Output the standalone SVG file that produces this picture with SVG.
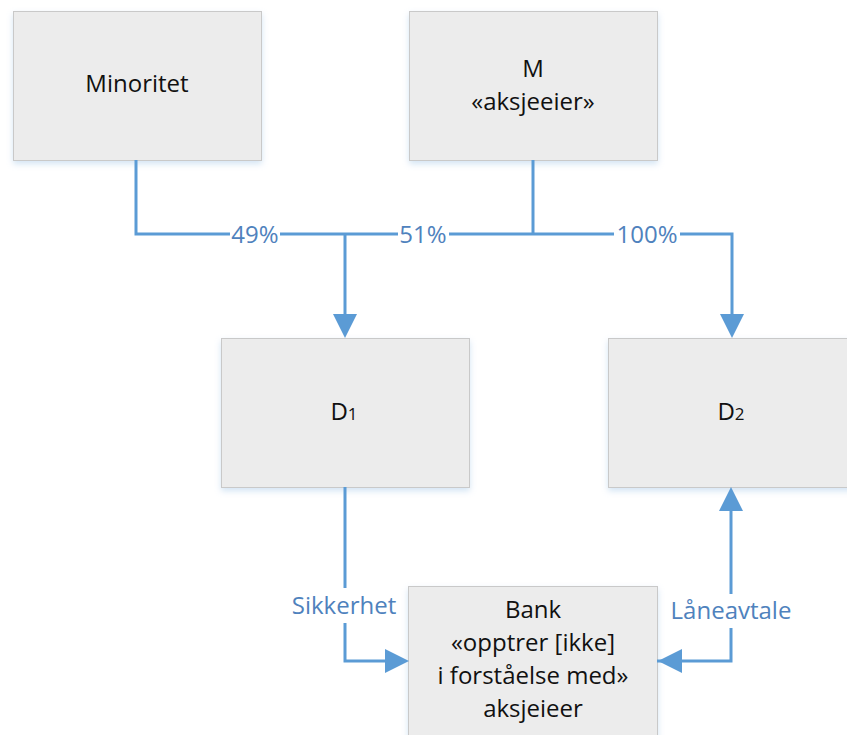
<svg xmlns="http://www.w3.org/2000/svg" width="847" height="735" viewBox="0 0 847 735">
  <style>
    .box { fill: #ececec; stroke: #c9c9c9; stroke-width: 1; filter: url(#shadow); }
    .node-text { font-family: "Open Sans", "Liberation Sans", sans-serif; font-size: 24px; fill: #111; text-anchor: middle; }
    .label { font-family: "Open Sans", "Liberation Sans", sans-serif; font-size: 24px; fill: #4f82bd; text-anchor: middle; }
    .wire { fill: none; stroke: #5b9bd5; stroke-width: 3; }
    .head { fill: #5b9bd5; }
  </style>
  <defs>
    <filter id="shadow" x="-10%" y="-10%" width="120%" height="130%">
      <feDropShadow dx="0" dy="3" stdDeviation="3" flood-color="#9dc3e6" flood-opacity="0.45"/>
    </filter>
  </defs>

  <rect width="847" height="735" fill="#ffffff"/>

  <g id="minoritet">
    <rect class="box" x="13.5" y="11.5" width="248" height="149"/>
    <text class="node-text" x="137" y="92">Minoritet</text>
  </g>

  <g id="m-aksjeeier">
    <rect class="box" x="409.5" y="11.5" width="248" height="149"/>
    <text class="node-text" x="533" y="77">M</text>
    <text class="node-text" x="533" y="110">«aksjeeier»</text>
  </g>

  <g id="d1">
    <rect class="box" x="221.5" y="338.5" width="248" height="149"/>
    <text class="node-text" x="344" y="420">D<tspan font-size="17">1</tspan></text>
  </g>

  <g id="d2">
    <rect class="box" x="608.5" y="338.5" width="250" height="149"/>
    <text class="node-text" x="731" y="420">D<tspan font-size="17">2</tspan></text>
  </g>

  <g id="bank">
    <rect class="box" x="408.5" y="586.5" width="249" height="160"/>
    <text class="node-text" x="533" y="618">Bank</text>
    <text class="node-text" x="533" y="651">«opptrer [ikke]</text>
    <text class="node-text" x="533" y="684">i forståelse med»</text>
    <text class="node-text" x="533" y="717">aksjeieer</text>
  </g>

  <g id="connectors">
    <!-- ownership tree -->
    <path class="wire" d="M136 160 V234 H230"/>
    <path class="wire" d="M280 234 H398"/>
    <path class="wire" d="M449 234 H614"/>
    <path class="wire" d="M680 234 H732 V314"/>
    <path class="wire" d="M533 160 V234"/>
    <path class="wire" d="M345 234 V314"/>
    <polygon class="head" points="333,314 357,314 345,338"/>
    <polygon class="head" points="720,314 744,314 732,338"/>

    <!-- D1 to bank -->
    <path class="wire" d="M345 487 V588"/>
    <path class="wire" d="M345 623 V661 H385"/>
    <polygon class="head" points="385,649 385,673 409,661"/>

    <!-- bank to D2 -->
    <path class="wire" d="M657 661 H731 V628"/>
    <path class="wire" d="M731 594 V511"/>
    <polygon class="head" points="719,511 743,511 731,487"/>
    <polygon class="head" points="682,649 682,673 658,661"/>

    <text class="label" x="255" y="243">49%</text>
    <text class="label" x="423" y="243">51%</text>
    <text class="label" x="647" y="243">100%</text>
    <text class="label" x="344" y="614">Sikkerhet</text>
    <text class="label" x="731" y="619">Låneavtale</text>
  </g>
</svg>
